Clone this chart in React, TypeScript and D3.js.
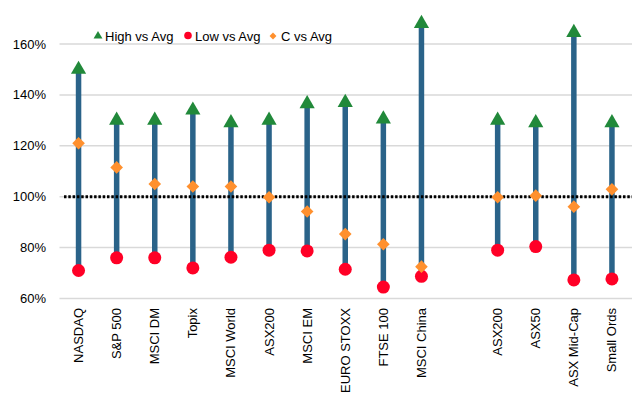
import { useEffect, useRef } from "react";
import * as d3 from "d3";

const categories = [
  "NASDAQ", "S&P 500", "MSCI DM", "Topix", "MSCI World", "ASX200", "MSCI EM",
  "EURO STOXX", "FTSE 100", "MSCI China", "", "ASX200 ", "ASX50", "ASX Mid-Cap", "Small Ords",
];
const highVsAvg = [150, 130, 130, 134, 129, 130, 136.5, 137, 130.5, 168, null, 130, 129, 164.5, 129];
const lowVsAvg = [71, 76, 76, 72, 76.2, 79, 78.7, 71.5, 64.5, 68.7, null, 79, 80.4, 67.3, 67.7];
const cVsAvg = [121, 111.5, 105, 104, 104, 99.8, 94.2, 85.3, 81.3, 72.5, null, 99.8, 100.4, 96.1, 102.9];
const yTicks = [60, 80, 100, 120, 140, 160];

const W = 637;
const H = 402;
const STEM = "#2a6389";
const GREEN = "#21893a";
const RED = "#ff0026";
const ORANGE = "#ff902e";

export default function App() {
  const ref = useRef<SVGSVGElement>(null);

  useEffect(() => {
    if (!ref.current) return;
    const svg = d3.select(ref.current);
    svg.selectAll("*").remove();

    const x = d3.scaleBand<string>().domain(categories).range([59.5, 631]);
    const y = d3.scaleLinear().domain([60, 160]).range([298.5, 44]);
    const cx = (i: number) => (x(categories[i]) as number) + x.bandwidth() / 2;
    const font = "'Liberation Sans', Arial, sans-serif";

    // gridlines
    svg.append("g").selectAll("line").data(yTicks).enter().append("line")
      .attr("x1", 59.5).attr("x2", 632)
      .attr("y1", d => y(d)).attr("y2", d => y(d))
      .attr("stroke", "#d9d9d9").attr("stroke-width", 1.5);

    svg.append("g").selectAll("text").data(yTicks).enter().append("text")
      .attr("x", 46).attr("y", d => y(d)).attr("dy", "0.35em")
      .attr("text-anchor", "end")
      .style("font-family", font).style("font-size", "13px").style("fill", "#000")
      .text(d => `${d}%`);

    const idx = d3.range(categories.length).filter(i => highVsAvg[i] != null);

    // stems
    svg.append("g").selectAll("line").data(idx).enter().append("line")
      .attr("x1", i => cx(i)).attr("x2", i => cx(i))
      .attr("y1", i => y(highVsAvg[i] as number)).attr("y2", i => y(lowVsAvg[i] as number))
      .attr("stroke", STEM).attr("stroke-width", 5.5);

    // 100% dotted line
    svg.append("line")
      .attr("x1", 64).attr("x2", 632)
      .attr("y1", y(100)).attr("y2", y(100))
      .attr("stroke", "#000").attr("stroke-width", 3)
      .attr("stroke-dasharray", "2.5,1.8");

    const tri = d3.symbol().type(d3.symbolTriangle).size(100);
    const dia = d3.symbol().type(d3.symbolSquare).size(80);

    svg.append("g").selectAll("path").data(idx).enter().append("path")
      .attr("d", tri)
      .attr("transform", i => `translate(${cx(i)},${y(highVsAvg[i] as number)})`)
      .attr("fill", GREEN);

    svg.append("g").selectAll("circle").data(idx).enter().append("circle")
      .attr("cx", i => cx(i)).attr("cy", i => y(lowVsAvg[i] as number))
      .attr("r", 6.5).attr("fill", RED);

    svg.append("g").selectAll("path").data(idx).enter().append("path")
      .attr("d", dia)
      .attr("transform", i => `translate(${cx(i)},${y(cVsAvg[i] as number)}) rotate(45)`)
      .attr("fill", ORANGE);

    // x labels
    svg.append("g").selectAll("text").data(idx).enter().append("text")
      .attr("transform", i => `translate(${cx(i) + 4.5},308) rotate(-90)`)
      .attr("text-anchor", "end")
      .style("font-family", font).style("font-size", "13px").style("fill", "#000")
      .text(i => categories[i].trim());

    // legend
    const lg = svg.append("g");
    lg.append("path").attr("d", d3.symbol().type(d3.symbolTriangle).size(34)())
      .attr("transform", "translate(98,36)").attr("fill", GREEN);
    lg.append("text").attr("x", 105).attr("y", 40.5).text("High vs Avg");
    lg.append("circle").attr("cx", 188).attr("cy", 35.5).attr("r", 3.8).attr("fill", RED);
    lg.append("text").attr("x", 195).attr("y", 40.5).text("Low vs Avg");
    lg.append("path").attr("d", d3.symbol().type(d3.symbolSquare).size(24)())
      .attr("transform", "translate(273,36) rotate(45)").attr("fill", ORANGE);
    lg.append("text").attr("x", 281).attr("y", 40.5).text("C vs Avg");
    lg.selectAll("text").style("font-family", font).style("font-size", "13px").style("fill", "#000");
  }, []);

  return (
    <svg ref={ref} width={W} height={H} viewBox={`0 0 ${W} ${H}`}
      style={{ position: "absolute", left: 0, top: 0, background: "#fff" }} />
  );
}
